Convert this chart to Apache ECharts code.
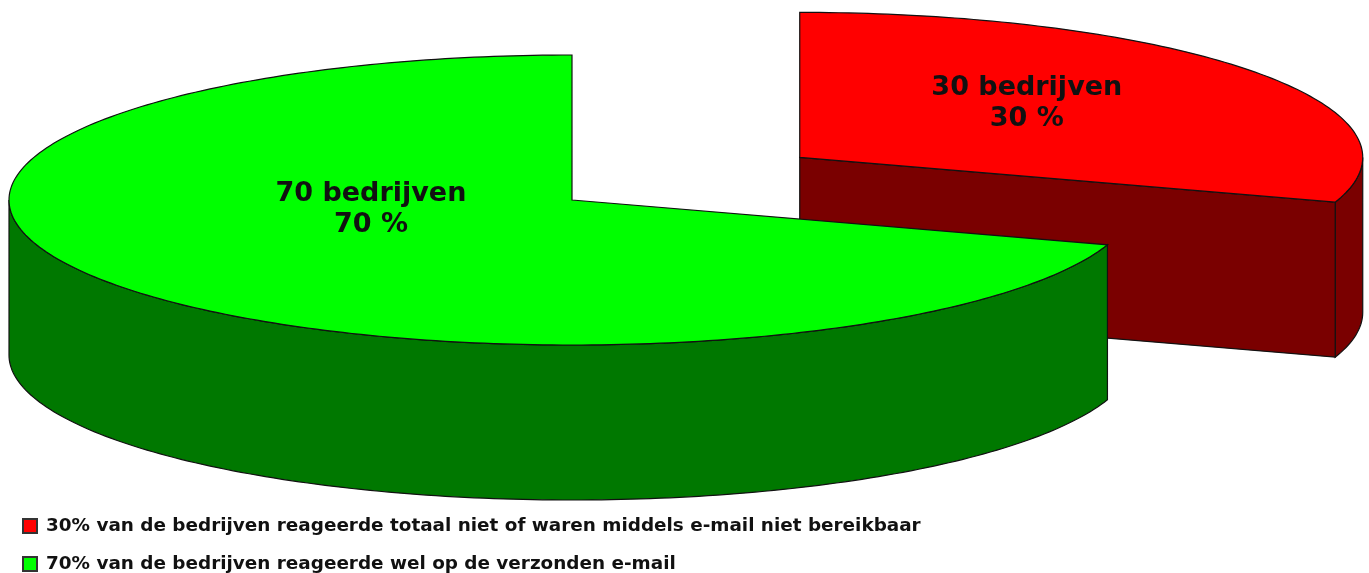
<!DOCTYPE html>
<html>
<head>
<meta charset="utf-8">
<title>bedrijven</title>
<script src="https://cdn.jsdelivr.net/npm/echarts@6/dist/echarts.min.js"></script>
<style>
  html, body { margin: 0; padding: 0; background: #fff; }
  #chart { width: 1369px; height: 573px; }
</style>
</head>
<body>
<div id="chart"></div>
<script>
// data
var legendNames = [
  '30% van de bedrijven reageerde totaal niet of waren middels e-mail niet bereikbaar',
  '70% van de bedrijven reageerde wel op de verzonden e-mail'
];
var values = [30, 70];
var sliceLabels = ['30 bedrijven\n30 %', '70 bedrijven\n70 %'];

// kleuren (boven / zijkant)
var topColors = ['#ff0000', '#00ff00'];
var sideColors = ['#7a0000', '#007800'];
var explode = [0.5, 0]; // red slice is pulled out

var total = values.reduce(function (s, v) { return s + v; }, 0);
// start angles, from 12 o'clock going clockwise
var startAngles = [];
var acc = -90;
values.forEach(function (v) {
  startAngles.push(acc);
  acc += v / total * 360;
});

var chart = echarts.init(document.getElementById('chart'));

function makeRender(idx) {
  return function (params, api) {
    var cx = 572, cy = 200; // pie centre
    var a = 563, b = 145, depth = 155;
    var t0 = startAngles[idx];
    var t1 = t0 + values[idx] / total * 360;
    var mid = (t0 + t1) / 2 * Math.PI / 180;
    // exploded slice
    cx += explode[idx] * a * Math.cos(mid);
    cy += explode[idx] * b * Math.sin(mid);

    function pt(deg, dz) {
      var r = deg * Math.PI / 180;
      return [cx + a * Math.cos(r), cy + b * Math.sin(r) + (dz || 0)];
    }
    var children = [];
    var line = { stroke: '#111', lineWidth: 1.2 };

    // outer side, only the front part (0..180)
    var s0 = Math.max(t0, 0), s1 = Math.min(t1, 180);
    if (s1 > s0) {
      var up = [], down = [];
      for (var d = s0; d <= s1; d += 1) {
        up.push(pt(d));
        down.push(pt(d, depth));
      }
      up.push(pt(s1));
      down.push(pt(s1, depth));
      children.push({
        type: 'polygon',
        shape: { points: up.concat(down.reverse()) },
        style: Object.assign({ fill: sideColors[idx] }, line)
      });
    }
    // cut faces
    var c0 = Math.cos(t0 * Math.PI / 180), c1 = Math.cos(t1 * Math.PI / 180);
    [[t0, -c0], [t1, c1]].forEach(function (f) {
      if (f[1] > 0.001) {
        var e = pt(f[0]);
        children.push({
          type: 'polygon',
          shape: { points: [[cx, cy], e, [e[0], e[1] + depth], [cx, cy + depth]] },
          style: Object.assign({ fill: sideColors[idx] }, line)
        });
      }
    });
    // top face
    var pts = [[cx, cy]];
    for (var d2 = t0; d2 <= t1; d2 += 1) pts.push(pt(d2));
    pts.push(pt(t1));
    children.push({
      type: 'polygon',
      shape: { points: pts },
      style: Object.assign({ fill: topColors[idx] }, line)
    });
    // label on top face
    children.push({
      type: 'text',
      style: {
        text: sliceLabels[idx],
        x: cx + 0.47 * a * Math.cos(mid) + 13,
        y: cy + 0.375 * b * Math.sin(mid) - 22,
        align: 'center',
        verticalAlign: 'middle',
        fill: '#111',
        font: 'bold 27px "DejaVu Sans"',
        lineHeight: 31
      }
    });
    return { type: 'group', children: children };
  };
}

var series = values.map(function (v, i) {
  return {
    type: 'custom',
    name: legendNames[i],
    coordinateSystem: 'none',
    renderItem: makeRender(i),
    itemStyle: { color: topColors[i], borderColor: '#333', borderWidth: 1 },
    data: [v],
    silent: true
  };
});

// one legend per row, stacked
var legendTops = [517, 555];
var legends = legendNames.map(function (name, i) {
  return {
    orient: 'vertical',
    left: 22,
    top: legendTops[i],
    padding: 0,
    icon: 'rect',
    itemWidth: 14,
    itemHeight: 14,
    selectedMode: false,
    data: [name],
    textStyle: {
      color: '#111',
      fontFamily: 'DejaVu Sans',
      fontWeight: 'bold',
      fontSize: 18.4,
      padding: [0, 0, 0, 4]
    }
  };
});

var option = {
  animation: false,
  backgroundColor: '#fff',
  legend: legends,
  series: series
};
chart.setOption(option);
window.addEventListener('resize', function () {
  chart.resize();
});
</script>
</body>
</html>
